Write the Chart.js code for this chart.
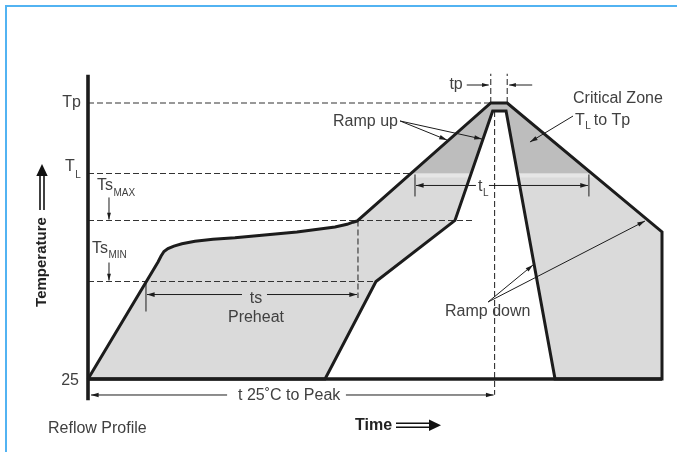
<!DOCTYPE html>
<html>
<head>
<meta charset="utf-8">
<script src="https://cdn.jsdelivr.net/npm/chart.js@4.4.1/dist/chart.umd.min.js"></script>
<style>
  html, body { margin: 0; padding: 0; background: #fff; }
  #wrap { position: relative; width: 677px; height: 452px; overflow: hidden; }
  #frame { position: absolute; left: 5px; top: 5px; right: -4px; bottom: -4px;
           border-left: 2px solid #52b3f2; border-top: 2px solid #52b3f2; pointer-events: none; }
  canvas { position: absolute; left: 0; top: 0; }
</style>
</head>
<body>
<div id="wrap">
  <canvas id="chart" width="677" height="452"></canvas>
  <div id="frame"></div>
</div>
<script>
// ------------------------------------------------------------
//  Reflow profile (schematic) — levels in °C, time in s
// ------------------------------------------------------------
const T_25 = 25, TS_MIN = 108, TS_MAX = 160, T_L = 200, T_P = 260;

// outer envelope (slow profile) and inner envelope (fast profile)
const outerTime = [0, 36.6, 38.2, 39.7, 41.8, 44.9, 49.1, 55.9, 65.3, 76.8, 109.2, 129.1, 135.4, 138.5, 140.6, 210.5, 219.1, 300, 300];
const outerTemp = [25, 124.6, 129.7, 133.6, 136.1, 138.2, 140.1, 142.2, 144.0, 145.3, 150.2, 154.4, 156.7, 158.5, 159.5, 260, 260, 150.2, 25];
const innerTime = [123.9, 150.5, 191.8, 211.5, 218.5, 244.1];
const innerTemp = [25, 108, 160, 253.2, 253.2, 25];

// time marks
const tpStart = 210.5, tpEnd = 219.1, tPeak = 212.5;
const tsStart = 30.3, tsEnd = 141.1;
const tlStart = 170.9, tlEnd = 261.8;
const tEnd = 300;

// reach of the guide lines
const tlLineEnd = 168.3, tsMaxLineEnd = 201.2, tsMinLineEnd = 150.5;
const tpMarkTop = 285, tsMarkBottom = 94, peakMarkBottom = 11.5;
const yAxisBottom = 7, yAxisTop = 284;

const INK = '#1c1c1c', TXT = '#404040';
const FONT = "16px 'Liberation Sans', Arial, sans-serif";
const SUB = "10px 'Liberation Sans', Arial, sans-serif";

const shape = [];
outerTime.forEach((t, i) => shape.push({ x: t, y: outerTemp[i] }));
for (let i = innerTime.length - 1; i >= 0; i--) shape.push({ x: innerTime[i], y: innerTemp[i] });
shape.push({ x: outerTime[0], y: outerTemp[0] });

function seg(x1, y1, x2, y2) { return [{ x: x1, y: y1 }, { x: x2, y: y2 }]; }

function dashed(pts) {
  return { data: pts, showLine: true, borderColor: '#333', borderWidth: 1.1, borderDash: [6, 3],
           pointRadius: 0, fill: false, clip: false };
}
function solid(pts, w) {
  return { data: pts, showLine: true, borderColor: INK, borderWidth: w, pointRadius: 0,
           fill: false, clip: false, borderCapStyle: 'butt' };
}

const datasets = [
  // 0: profile outline on top
  { data: shape, showLine: true, borderColor: INK, borderWidth: 3, borderJoinStyle: 'miter',
    pointRadius: 0, fill: false, clip: false },
  solid(seg(0, T_25, tEnd, T_25), 3.4),
  solid(seg(0, yAxisBottom, 0, yAxisTop), 3.6),
  dashed(seg(0, T_P, tpStart, T_P)),
  dashed(seg(0, T_L, tlLineEnd, T_L)),
  dashed(seg(0, TS_MAX, tsMaxLineEnd, TS_MAX)),
  dashed(seg(0, TS_MIN, tsMinLineEnd, TS_MIN)),
  dashed(seg(tsEnd, TS_MAX, tsEnd, tsMarkBottom)),
  dashed(seg(tpStart, T_P, tpStart, tpMarkTop)),
  dashed(seg(tpEnd, T_P, tpEnd, tpMarkTop)),
  dashed(seg(tPeak, innerTemp[3], tPeak, peakMarkBottom)),
  // last: grey area of the profile
  { data: shape, showLine: true, borderColor: 'rgba(0,0,0,0)', borderWidth: 0, pointRadius: 0,
    fill: 'shape', backgroundColor: '#dadada', clip: false }
];
const ZONE = datasets.length - 1;

// darker band of the critical zone (above T_L), painted over the grey fill
const zonePlugin = {
  id: 'zone',
  afterDatasetDraw(chart, args) {
    if (args.index !== ZONE) return;
    const { ctx, chartArea: a, scales: { y } } = chart;
    const yl = y.getPixelForValue(T_L);
    ctx.save();
    ctx.beginPath();
    ctx.rect(a.left, a.top, a.right - a.left, yl - a.top);
    ctx.clip();
    ctx.beginPath();
    args.meta.dataset.path(ctx);
    ctx.closePath();
    ctx.fillStyle = '#bdbdbd';
    ctx.fill();
    ctx.restore();
    ctx.save();
    ctx.beginPath();
    ctx.rect(a.left, yl, a.right - a.left, 4);
    ctx.clip();
    ctx.beginPath();
    args.meta.dataset.path(ctx);
    ctx.closePath();
    ctx.fillStyle = '#e6e6e6';
    ctx.fill();
    ctx.restore();
  }
};

function arrow(ctx, x1, y1, x2, y2, len, half) {
  len = len || 8; half = half || 0.3;
  ctx.beginPath(); ctx.moveTo(x1, y1); ctx.lineTo(x2, y2); ctx.stroke();
  const a = Math.atan2(y2 - y1, x2 - x1);
  ctx.beginPath();
  ctx.moveTo(x2, y2);
  ctx.lineTo(x2 - len * Math.cos(a - half), y2 - len * Math.sin(a - half));
  ctx.lineTo(x2 - len * Math.cos(a + half), y2 - len * Math.sin(a + half));
  ctx.closePath(); ctx.fill();
}
function line(ctx, x1, y1, x2, y2) { ctx.beginPath(); ctx.moveTo(x1, y1); ctx.lineTo(x2, y2); ctx.stroke(); }
function text(ctx, s, x, y, align, font) {
  ctx.font = font || FONT; ctx.textAlign = align || 'left'; ctx.textBaseline = 'alphabetic';
  ctx.fillText(s, x, y);
}
// main text followed by a subscript, starting at x; returns end x
function subText(ctx, main, sub, x, y, dy) {
  text(ctx, main, x, y, 'left');
  ctx.font = FONT;
  const w = ctx.measureText(main).width;
  text(ctx, sub, x + w + 0.5, y + dy, 'left', SUB);
  ctx.font = SUB;
  return x + w + 0.5 + ctx.measureText(sub).width;
}

const notesPlugin = {
  id: 'notes',
  afterDraw(chart) {
    const { ctx, scales: { x, y } } = chart;
    const X = v => x.getPixelForValue(v), Y = v => y.getPixelForValue(v);
    ctx.save();
    ctx.strokeStyle = INK; ctx.fillStyle = INK; ctx.lineWidth = 1;

    // Ts max / min markers
    arrow(ctx, X(0) + 21, Y(T_L) + 24, X(0) + 21, Y(TS_MAX) - 1, 7, 0.28);
    arrow(ctx, X(0) + 21, Y(TS_MIN) - 19, X(0) + 21, Y(TS_MIN) - 1, 7, 0.28);

    // ts preheat span
    line(ctx, X(tsStart), Y(TS_MIN), X(tsStart), Y(TS_MIN) + 30);
    arrow(ctx, X(87.8) - 14, Y(TS_MIN) + 13, X(tsStart) + 1, Y(TS_MIN) + 13, 8, 0.3);
    arrow(ctx, X(87.8) + 11, Y(TS_MIN) + 13, X(tsEnd) - 1, Y(TS_MIN) + 13, 8, 0.3);

    // tL span
    line(ctx, X(tlStart), Y(T_L) + 1, X(tlStart), Y(T_L) + 23);
    line(ctx, X(tlEnd), Y(T_L) + 1, X(tlEnd), Y(T_L) + 23);
    arrow(ctx, X(203.8) - 2, Y(T_L) + 12, X(tlStart) + 1, Y(T_L) + 12, 8, 0.3);
    arrow(ctx, X(203.8) + 11, Y(T_L) + 12, X(tlEnd) - 1, Y(T_L) + 12, 8, 0.3);

    // tp
    arrow(ctx, X(tpStart) - 24, Y(T_P) - 18, X(tpStart) - 2, Y(T_P) - 18, 7, 0.3);
    arrow(ctx, X(tpEnd) + 25, Y(T_P) - 18, X(tpEnd) + 2, Y(T_P) - 18, 7, 0.3);

    // ramp up / ramp down / critical zone pointers
    arrow(ctx, X(163.1), Y(244.7), X(187.6), Y(228.5), 8, 0.28);
    arrow(ctx, X(163.1), Y(244.7), X(205.9), Y(229.3), 8, 0.28);
    arrow(ctx, X(253.5), Y(248.9), X(231.0), Y(226.8), 8, 0.28);
    arrow(ctx, X(209.1), Y(90.6), X(232.6), Y(122.1), 8, 0.28);
    arrow(ctx, X(209.1), Y(90.6), X(291.1), Y(159.5), 8, 0.28);

    // t 25°C to peak
    arrow(ctx, X(72.7), Y(T_25) + 16, X(0) + 3, Y(T_25) + 16, 8, 0.3);
    arrow(ctx, X(134.8), Y(T_25) + 16, X(tPeak) - 1, Y(T_25) + 16, 8, 0.3);

    // labels
    ctx.fillStyle = TXT;
    text(ctx, 'Tp', X(0) - 7, Y(T_P) + 4, 'right');
    text(ctx, '25', X(0) - 9, Y(T_25) + 6, 'right');
    subText(ctx, 'T', 'L', X(0) - 23, Y(T_L) - 2, 7);
    subText(ctx, 'Ts', 'MAX', X(0) + 9, Y(T_L) + 17, 6);
    subText(ctx, 'Ts', 'MIN', X(0) + 4, Y(TS_MIN) - 29, 5);
    text(ctx, 'ts', X(87.8), Y(TS_MIN) + 21, 'center');
    text(ctx, 'Preheat', X(87.8), Y(TS_MIN) + 40, 'center');
    subText(ctx, 't', 'L', X(203.8), Y(T_L) + 18, 5);
    text(ctx, 'tp', X(tpStart) - 28, Y(T_P) - 14, 'right');
    text(ctx, 'Ramp up', X(162), Y(240.4), 'right');
    text(ctx, 'Critical Zone', X(253.5), Y(T_P), 'left');
    const endTL = subText(ctx, 'T', 'L', X(254.5), Y(241.3), 4);
    text(ctx, 'to Tp', endTL + 3, Y(241.3), 'left');
    text(ctx, 'Ramp down', X(186.6), Y(78.6), 'left');
    text(ctx, 't 25˚C to Peak', X(78.4), Y(T_25) + 21, 'left');

    // titles outside the plot
    text(ctx, 'Reflow Profile', 48, 433, 'left');
    ctx.fillStyle = '#222';
    text(ctx, 'Time', 355, 430, 'left', "bold 16px 'Liberation Sans', Arial, sans-serif");
    ctx.save();
    ctx.translate(46, 262);
    ctx.rotate(-Math.PI / 2);
    text(ctx, 'Temperature', 0, 0, 'center', "bold 15px 'Liberation Sans', Arial, sans-serif");
    ctx.restore();

    // double arrows next to the axis titles
    ctx.strokeStyle = '#111'; ctx.fillStyle = '#111'; ctx.lineWidth = 1.6;
    line(ctx, 396, 423.3, 431, 423.3);
    line(ctx, 396, 427.3, 431, 427.3);
    ctx.beginPath(); ctx.moveTo(441, 425.3); ctx.lineTo(429, 419.5); ctx.lineTo(429, 431.1); ctx.closePath(); ctx.fill();
    line(ctx, 40, 210, 40, 174);
    line(ctx, 44, 210, 44, 174);
    ctx.beginPath(); ctx.moveTo(42, 164); ctx.lineTo(36.3, 176); ctx.lineTo(47.7, 176); ctx.closePath(); ctx.fill();

    ctx.restore();
  }
};

new Chart(document.getElementById('chart'), {
  type: 'scatter',
  data: { datasets },
  options: {
    responsive: false,
    animation: false,
    layout: { padding: { left: 78.433, right: 5.433, top: 67.766, bottom: 49.511 } },
    scales: {
      x: { type: 'linear', min: -5, max: 305, display: false },
      y: { type: 'linear', min: 5, max: 290, display: false }
    },
    elements: { line: { tension: 0 }, point: { radius: 0 } },
    plugins: { legend: { display: false }, tooltip: { enabled: false } }
  },
  plugins: [zonePlugin, notesPlugin]
});
</script>
</body>
</html>
